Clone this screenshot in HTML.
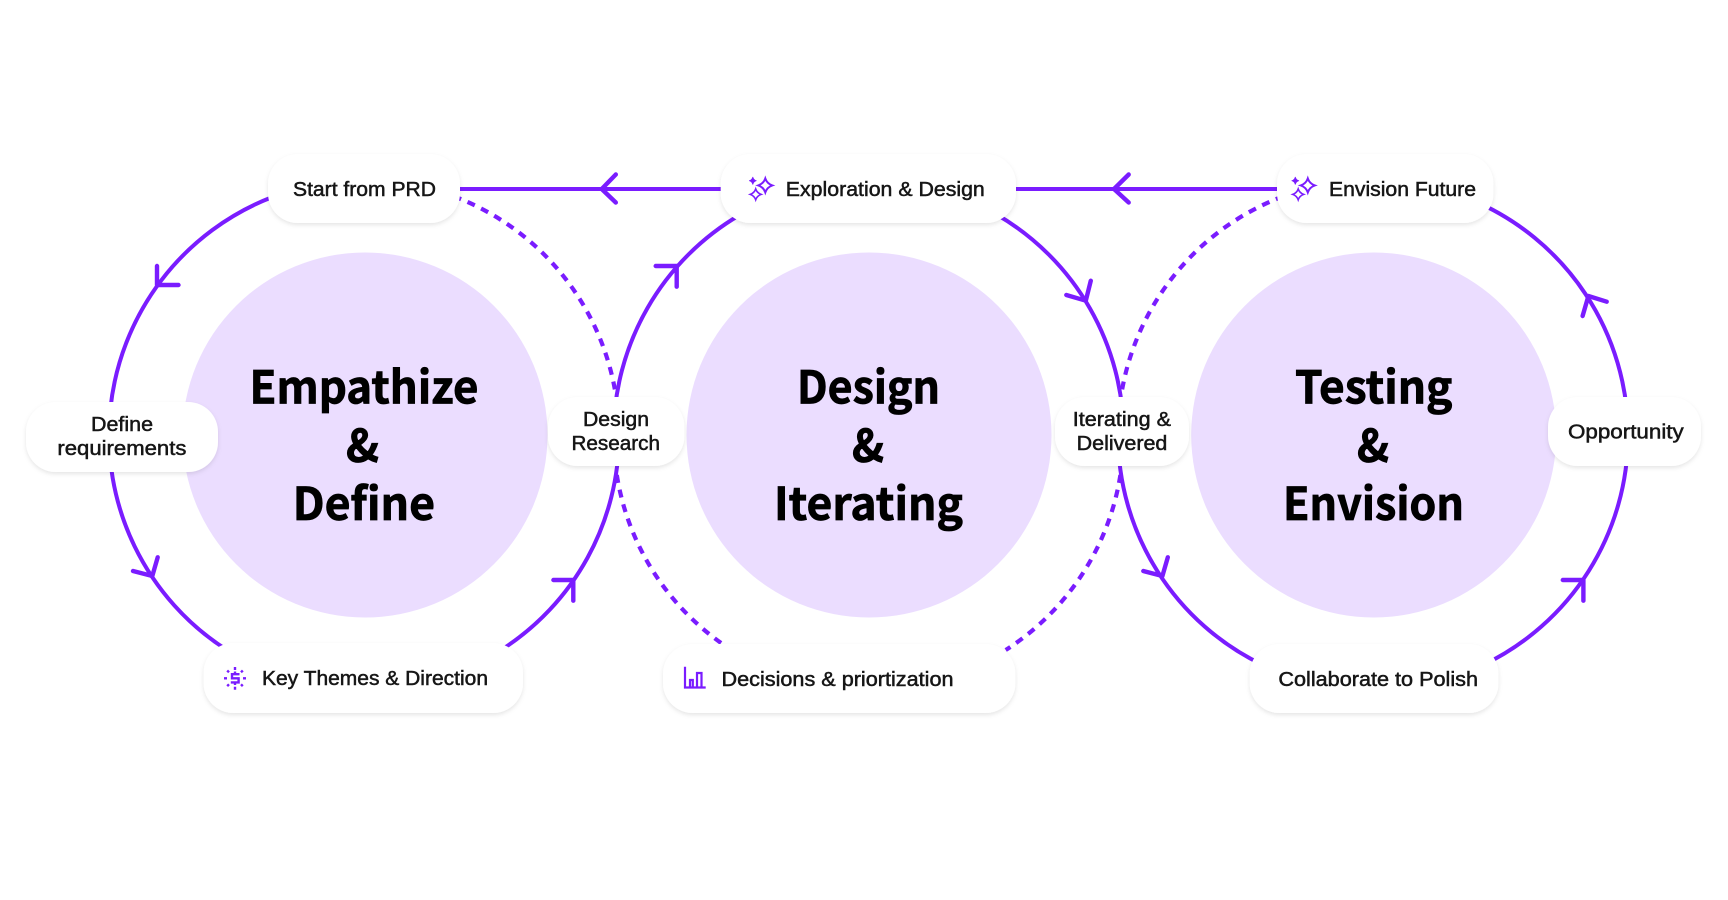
<!DOCTYPE html>
<html lang="en">
<head>
<meta charset="utf-8">
<title>Design process diagram</title>
<style>
html,body{margin:0;padding:0;background:#fff;width:1728px;height:900px;overflow:hidden}
svg{display:block}
.a{fill:none;stroke:#7a1cff;stroke-width:4}
.d{fill:none;stroke:#7a1cff;stroke-width:4.2;stroke-dasharray:8 7}
.h{fill:none;stroke:#7a1cff;stroke-width:4.4;stroke-linecap:round;stroke-linejoin:round}
.p{fill:#fff;filter:url(#s)}
.t{font-family:"Liberation Sans",sans-serif;font-size:20px;fill:#161616;stroke:#161616;stroke-width:.5}
.b{font-family:"Noto Sans CJK KR","Liberation Sans",sans-serif;font-size:45px;font-weight:700;fill:#000;stroke:#000;stroke-width:.8}
.i{fill:none;stroke:#7a1cff;stroke-width:2}
</style>
</head>
<body>
<svg width="1728" height="900" viewBox="0 0 1728 900" xmlns="http://www.w3.org/2000/svg">
<defs>
<filter id="s" x="-15%" y="-25%" width="130%" height="160%">
<feDropShadow dx="0" dy="2" stdDeviation="2.2" flood-color="#000" flood-opacity=".1"/>
</filter>
<g id="sp">
<path class="i" d="M0-7Q1.8-1.8 7 0Q1.8 1.8 0 7Q-1.8 1.8-7 0Q-1.8-1.8 0-7Z"/>
<path class="i" transform="translate(-9.6 9)scale(.78)" d="M0-7Q1.8-1.8 7 0Q1.8 1.8 0 7Q-1.8 1.8-7 0Q-1.8-1.8 0-7Z"/>
<path d="M-12.5-8.5Q-11.8-5.4-8.8-4.7Q-11.8-4-12.5-.9Q-13.2-4-16.2-4.7Q-13.2-5.4-12.5-8.5Z" fill="#7a1cff" stroke="#7a1cff" stroke-width=".7"/>
</g>
</defs>

<circle cx="365" cy="435" r="182.5" fill="#ebddff"/>
<circle cx="869" cy="435" r="182.5" fill="#ebddff"/>
<circle cx="1373.7" cy="435" r="182.5" fill="#ebddff"/>

<path class="a" d="M272.5 197A255 255 0 0 0 226.9 650"/>
<path class="a" d="M501.1 650A255 255 0 0 0 619 435"/>
<path class="d" style="stroke-dashoffset:11.3" d="M450.2 195A255 255 0 0 1 615.8 395"/>

<path class="a" d="M613.6 435A255 255 0 0 1 739.7 215"/>
<path class="a" d="M997.5 215A255 255 0 0 1 1123.6 435"/>
<path class="d" d="M616.8 475A255 255 0 0 0 731.5 650"/>
<path class="d" d="M1120.4 475A255 255 0 0 1 1005.7 650"/>

<path class="d" style="stroke-dashoffset:11.3" d="M1286.8 195A255 255 0 0 0 1121.2 395"/>
<path class="a" d="M1118 435A255 255 0 0 0 1262.9 665"/>
<path class="a" d="M1483.1 665A255 255 0 0 0 1628 435"/>
<path class="a" d="M1628 435A255 255 0 0 0 1472 200"/>

<path class="a" d="M450 189H730M1010 189H1285"/>

<path class="h" d="M157 266V285H178.5"/>
<path class="h" d="M133 571L152.3 576L157.7 557.3"/>
<path class="h" d="M553.4 580H573.3V600.7"/>
<path class="h" d="M655.7 266H676.7V286.7"/>
<path class="h" d="M1066.3 295L1085.8 300.7L1090.8 280.7"/>
<path class="h" d="M1143.3 571L1162.4 576L1167.8 557.3"/>
<path class="h" d="M1562.8 580H1583.4V600.7"/>
<path class="h" d="M1582.6 316L1588.4 296L1606.7 301.7"/>
<path class="h" d="M615.8 174.5L601.7 189L615.8 202.5"/>
<path class="h" d="M1128.7 174.5L1114 189L1128.7 202.5"/>

<rect class="p" x="268" y="154" width="192" height="69" rx="30"/>
<rect class="p" x="720.7" y="154" width="295.3" height="69" rx="30"/>
<rect class="p" x="1277" y="154" width="216.5" height="69" rx="30"/>
<rect class="p" x="26" y="402" width="192" height="70" rx="30"/>
<rect class="p" x="548" y="397" width="136.4" height="69" rx="30"/>
<rect class="p" x="1055" y="397" width="134" height="69" rx="30"/>
<rect class="p" x="1548" y="397" width="153" height="69" rx="30"/>
<rect class="p" x="203.6" y="643" width="319.4" height="70" rx="30"/>
<rect class="p" x="663" y="644" width="352.4" height="69" rx="30"/>
<rect class="p" x="1249.7" y="644" width="248.8" height="69" rx="30"/>

<use href="#sp" x="765.3" y="185.4"/>
<use href="#sp" x="1307.8" y="185.4"/>

<g fill="none" stroke="#7a1cff" stroke-width="2.4">
<path d="M239.5 674.2H232V678.3H238.6V682.4H230.8" stroke-width="2.4"/>
<path d="M235 671.5V674M235 682.5V685"/>
<path d="M235 667V670M235 686.7V689.7M224 678.3H227M243 678.3H246M227.2 670.5L229 672.3M241 684.3L242.8 686.1M242.8 670.5L241 672.3M229 684.3L227.2 686.1"/>
</g>
<g fill="none" stroke="#7a1cff" stroke-width="2.2">
<path d="M685 666.7V687.5H705.7"/>
<path d="M690 687V680H692.8V687"/>
<path d="M697 687V673H701.5V687"/>
</g>

<text class="t" x="293" y="196" textLength="143" lengthAdjust="spacingAndGlyphs">Start from PRD</text>
<text class="t" x="785.8" y="196" textLength="199" lengthAdjust="spacingAndGlyphs">Exploration &amp; Design</text>
<text class="t" x="1329" y="196" textLength="147" lengthAdjust="spacingAndGlyphs">Envision Future</text>
<text class="t" x="91" y="431" textLength="62" lengthAdjust="spacingAndGlyphs">Define</text>
<text class="t" x="57.4" y="455" textLength="129" lengthAdjust="spacingAndGlyphs">requirements</text>
<text class="t" x="583" y="426" textLength="66" lengthAdjust="spacingAndGlyphs">Design</text>
<text class="t" x="571.5" y="450" textLength="88.5" lengthAdjust="spacingAndGlyphs">Research</text>
<text class="t" x="1072.8" y="426" textLength="98.2" lengthAdjust="spacingAndGlyphs">Iterating &amp;</text>
<text class="t" x="1076.6" y="450" textLength="90.8" lengthAdjust="spacingAndGlyphs">Delivered</text>
<text class="t" x="1568" y="438.5" textLength="115.7" lengthAdjust="spacingAndGlyphs">Opportunity</text>
<text class="t" x="262" y="685" textLength="226" lengthAdjust="spacingAndGlyphs">Key Themes &amp; Direction</text>
<text class="t" x="721.5" y="686" textLength="232" lengthAdjust="spacingAndGlyphs">Decisions &amp; priortization</text>
<text class="t" x="1278.4" y="686" textLength="199.6" lengthAdjust="spacingAndGlyphs">Collaborate to Polish</text>

<text class="b" x="249.5" y="403.5" textLength="229" lengthAdjust="spacingAndGlyphs">Empathize</text>
<text class="b" x="346" y="462" textLength="33" lengthAdjust="spacingAndGlyphs">&amp;</text>
<text class="b" x="292.8" y="520" textLength="142.2" lengthAdjust="spacingAndGlyphs">Define</text>
<text class="b" x="797" y="403.5" textLength="143" lengthAdjust="spacingAndGlyphs">Design</text>
<text class="b" x="852" y="462" textLength="32" lengthAdjust="spacingAndGlyphs">&amp;</text>
<text class="b" x="774" y="520" textLength="189" lengthAdjust="spacingAndGlyphs">Iterating</text>
<text class="b" x="1295" y="403.5" textLength="157.5" lengthAdjust="spacingAndGlyphs">Testing</text>
<text class="b" x="1357" y="462" textLength="32" lengthAdjust="spacingAndGlyphs">&amp;</text>
<text class="b" x="1283" y="520" textLength="181" lengthAdjust="spacingAndGlyphs">Envision</text>
</svg>
</body>
</html>
